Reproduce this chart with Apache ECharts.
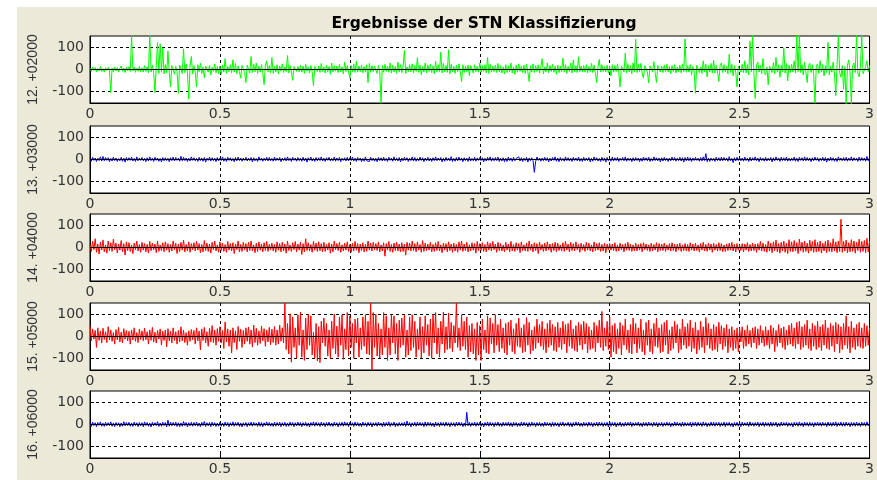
<!DOCTYPE html>
<html>
<head>
<meta charset="utf-8">
<script src="https://cdn.jsdelivr.net/npm/echarts@6/dist/echarts.min.js"></script>
<style>
  html, body { margin: 0; padding: 0; background: #fff; }
  #wrap { position: relative; width: 877px; height: 480px; overflow: hidden; }
  #panel { position: absolute; left: 17px; top: 7px; right: 0; bottom: 0; background: #ece9d8; }
  #chart { position: absolute; left: 0; top: 0; width: 877px; height: 480px; }
</style>
</head>
<body>
<div id="wrap"><div id="panel"></div><div id="chart"></div></div>
<script>
// STN recordings, 0 .. 3 s, one value per 5 ms (amplitude in µV)
const chanNames = ['12. +02000', '13. +03000', '14. +04000', '15. +05000', '16. +06000'];
const chanColors = ['#00ff00', '#0000ff', '#ff0000', '#ff0000', '#0000ff'];
const timeRange = [0, 3];
const timeTicks = 0.5;
const ampTicks = [-100, 0, 100];

const ch12 = [
  6, -8, 12, -4, 9, -11, 5, -7, 14, -9, 4, -12, 8, -5, 10, -6, -106, 7, -10, 11,
  -6, 9, -12, 5, 16, -8, 7, -14, 10, -5, 13, -9, 160, -7, 11, -13, 6, -8, 15, -10,
  8, -12, 18, -9, 12, -15, 160, -11, 20, -14, -106, 16, 124, -18, 118, -12, 100, -20, 22, -16,
  85, -14, -80, 18, 26, -22, 14, -10, -110, 20, 12, -18, 95, -15, 24, -12, -136, 16, 60, -20,
  18, -14, -80, 22, -10, 30, -18, 12, -38, 16, 24, -12, 18, -25, 10, -8, 26, -15, 14, -20,
  15, -22, 20, -12, 50, -18, 14, -10, 22, -15, 45, -12, 28, -20, 16, -9, -40, 18, 12, -14,
  -60, 20, 12, -16, 60, -14, 24, -10, 30, -18, 16, -12, 22, -15, -70, 20, 40, -11, 18, -16,
  55, -18, 14, -12, 22, -20, 16, -8, 26, -14, 12, -10, 64, -16, 18, -12, -50, 14, 20, -9,
  14, -10, 20, -12, 16, -18, 24, -8, 12, -15, 18, -11, -75, 14, 22, -10, 16, -13, 28, -9,
  12, -16, 20, -10, 14, -22, 30, -12, 18, -8, 16, -14, 24, -11, 12, -20, 34, -9, 18, -12,
  -40, 18, -10, 26, -14, 38, -12, 16, -9, 20, -15, 14, -11, 22, -60, 28, -13, 18, -10, 16,
  12, -18, 20, -10, -155, 18, -12, 24, -9, 16, -13, 30, -16, 20, -11, 14, -18, 34, -12, 22,
  -14, 16, 88, -18, 12, -10, 22, -11, 26, -15, 18, -9, 55, -13, 20, -24, 14, -12, 30, -16,
  20, -9, 24, -14, 16, -20, 38, -12, 22, -10, 80, -16, 28, -11, 18, -13, 91, -20, 24, -12,
  14, -18, 20, -10, 26, -12, -55, 22, -14, 16, -11, 20, -28, 18, 12, -16, 22, -10, 14, -12,
  30, -13, 18, -9, 22, -15, 55, -18, 24, -12, 16, -10, 20, -14, 28, -11, 18, -16, 12, -20,
  22, -14, 18, -10, 30, -16, 12, -22, 20, -12, 26, -9, 16, -14, 20, -18, 24, -11, -55, 18,
  -12, 26, -14, 18, -10, 22, -16, 14, 50, -20, 12, -11, 30, -15, 18, -9, 24, -13, 16, -22,
  20, -14, 16, -10, 52, -12, 22, -18, 14, -9, 30, -16, 44, -11, 18, -14, 58, -10, 16, -12,
  18, -12, 22, -15, 14, -10, 28, -14, 20, -18, -60, 12, 46, -12, 22, -9, 14, -11, 20, -16,
  14, -30, 22, -12, 18, -10, 26, -14, -80, 16, 20, -12, 75, -15, 24, -11, 18, -20, 30, -12,
  139, -14, 24, -10, 28, -16, -40, 18, 20, -12, -62, 16, 22, -10, 36, -14, -60, 18, 12, -11,
  16, -14, 20, -10, 24, -12, 14, -20, 18, -9, 22, -16, 12, -11, 20, -15, 26, -10, 140, -13,
  18, -12, 22, -25, 14, -10, -109, 20, 16, -14, 12, -18, 40, -11, 24, -34, 18, -12, 28, -16,
  42, -16, 20, -12, -55, 18, 30, -14, 22, -10, 16, -20, 70, -14, 24, -30, 18, -12, -80, 14,
  20, -12, 24, -14, 40, -16, 22, -25, 130, -10, 160, -18, -133, 20, 34, -12, 18, -20, 50, -14,
  -25, 12, -70, 16, 20, -14, 32, -20, 56, -12, 22, -36, 18, -10, 100, -16, 28, -52, 20, -14,
  24, -12, 40, -16, 160, -10, 160, -14, 22, -25, 34, -12, -60, 18, 28, -14, 22, -20, -155, 16,
  26, -18, 40, -12, 22, -30, 18, -14, 125, -25, 14, -12, 34, -16, -120, 20, 160, -14, -35, 18,
  -90, 14, -160, 20, 44, -12, -160, 18, 30, -14, 160, -16, -34, 12, 160, -20, -25, 14, 40, -12,
  18
];

const ch13 = [
  5, -8, 10, -4, 7, -9, 6, -5, 12, -7, 14, -6, 9, -4, 8, -10, 5, -7, 11, -5,
  7, -9, 4, -6, 10, -8, 6, -12, 9, -5, 8, -4, 11, -7, 5, -9, 12, -6, 7, -4,
  9, -6, 5, -10, 8, -7, 12, -5, 6, -9, 10, -4, 7, -8, 5, -11, 9, -6, 8, -5,
  6, -10, 8, -5, 11, -7, 9, -4, 6, -8, 15, -6, 10, -5, 7, -9, 6, -7, 12, -4,
  8, -6, 5, -9, 10, -5, 7, -8, 9, -12, 6, -4, 11, -7, 8, -5, 6, -10, 9, -6,
  7, -5, 12, -8, 6, -9, 10, -4, 8, -7, 5, -10, 9, -6, 11, -5, 7, -8, 6, -4,
  10, -7, 6, -5, 9, -11, 8, -6, 5, -9, 12, -4, 7, -8, 6, -5, 10, -7, 9, -6,
  5, -8, 11, -6, 7, -4, 9, -10, 6, -5, 8, -7, 12, -5, 6, -9, 10, -4, 7, -8,
  9, -5, 6, -8, 10, -6, 7, -12, 8, -4, 11, -7, 5, -9, 9, -6, 8, -5, 12, -7,
  6, -9, 8, -4, 10, -7, 5, -6, 11, -8, 7, -5, 9, -10, 6, -4, 8, -7, 10, -6,
  8, -5, 11, -7, 6, -9, 9, -4, 7, -10, 5, -8, 12, -6, -15, -9, 10, -5, 7, -8,
  6, -10, 9, -5, 8, -7, 11, -6, 5, -9, 10, -4, 7, -8, 12, -5, 6, -7, 9, -11,
  7, -6, 10, -4, 8, -9, 6, -5, 12, -7, 9, -8, 5, -6, 11, -4, 8, -10, 7, -5,
  10, -7, 6, -9, 8, -5, 12, -6, 7, -4, 9, -11, 6, -8, 10, -5, 7, -6, 13, -9,
  5, -8, 9, -6, 11, -4, 7, -10, 8, -5, 6, -9, 12, -7, 5, -6, 10, -8, 7, -4,
  9, -5, 8, -11, 6, -7, 10, -4, 12, -8, 7, -6, 9, -5, 11, -9, 6, -7, 8, -10,
  6, -9, 11, -5, 7, -8, 10, -6, 5, -4, 12, -7, 8, -9, 6, -5, 10, -12, 7, -6,
  8, -5, -59, -9, 11, -4, 7, -8, 7, -6, 10, -5, 8, -11, 6, -7, 9, -4, 12, -8,
  7, -10, 9, -6, 5, -8, 12, -5, 8, -7, 6, -9, 10, -4, 7, -6, 11, -8, 5, -9,
  10, -6, 7, -5, 9, -11, 6, -8, 12, -4, 8, -7, 5, -9, 10, -6, 7, -12, 9, -5,
  6, -8, 11, -7, 8, -5, 10, -9, 6, -4, 9, -6, 12, -8, 7, -5, 6, -10, 8, -7,
  9, -5, 7, -10, 6, -8, 11, -4, 8, -6, 10, -9, 5, -7, 12, -5, 8, -6, 7, -11,
  8, -7, 10, -5, 6, -9, 7, -6, 11, -4, 9, -8, 6, -5, 10, -7, 8, -12, 9, -6,
  11, -6, 8, -9, 7, -5, 10, -4, 6, -8, 9, -7, 12, -5, 27, -10, 6, -9, 7, -5,
  6, -9, 10, -5, 8, -7, 11, -6, 9, -4, 7, -8, 13, -6, 5, -14, 8, -7, 10, -5,
  9, -6, 7, -8, 11, -5, 6, -9, 10, -7, 8, -4, 12, -6, 7, -10, 9, -5, 6, -8,
  10, -7, 6, -5, 9, -11, 8, -6, 12, -4, 7, -9, 10, -5, 8, -6, 11, -8, 6, -7,
  7, -5, 11, -8, 6, -9, 10, -4, 8, -7, 12, -6, 9, -5, 7, -10, 8, -6, 11, -4,
  8, -9, 6, -5, 10, -7, 9, -12, 7, -6, 11, -5, 8, -8, 6, -9, 12, -4, 7, -6,
  9, -6, 10, -8, 7, -5, 12, -7, 8, -4, 6, -9, 11, -6, 9, -5, 7, -8, 14, -6,
  8
];

const ch14 = [
  14, -18, 28, -10, 40, -22, 16, -30, 24, -12, 35, -20, 12, -26, 30, -14, 22, -18, 38, -10,
  20, -25, 16, -12, 32, -20, 18, -35, 26, -14, 22, -18, 12, -28, 20, -10, 30, -16, 14, -22,
  24, -12, 18, -20, 14, -26, 28, -15, 20, -10, 16, -24, 30, -18, 12, -14, 22, -20, 26, -12,
  18, -22, 14, -16, 30, -10, 20, -28, 16, -18, 24, -12, 34, -20, 14, -15, 26, -22, 18, -10,
  22, -16, 28, -12, 18, -24, 14, -20, 32, -14, 20, -18, 16, -26, 24, -10, 30, -16, 12, -22,
  26, -14, 20, -18, 14, -22, 28, -12, 18, -16, 22, -28, 16, -10, 30, -20, 14, -18, 24, -12,
  18, -20, 24, -14, 30, -16, 12, -24, 20, -18, 26, -12, 16, -20, 22, -14, 28, -18, 14, -10,
  20, -16, 14, -22, 26, -12, 18, -20, 24, -15, 16, -26, 30, -14, 12, -18, 22, -10, 28, -20,
  16, -12, 24, -32, 18, -20, 40, -14, 22, -16, 14, -22, 28, -12, 20, -18, 26, -15, 18, -20,
  24, -18, 14, -12, 22, -26, 16, -20, 30, -10, 18, -14, 24, -22, 12, -16, 20, -12, 26, -18,
  14, -22, 20, -16, 28, -12, 18, -24, 16, -14, 22, -20, 14, -18, 30, -12, 20, -16, 24, -10,
  18, -14, 26, -20, 12, -16, 22, -40, 18, -12, 28, -18, 14, -22, 20, -14, 24, -16, 16, -20,
  22, -18, 16, -35, 24, -12, 20, -16, 30, -14, 18, -20, 26, -12, 14, -22, 32, -18, 20, -14,
  16, -12, 24, -20, 14, -18, 22, -14, 28, -16, 12, -24, 20, -12, 18, -20, 26, -14, 16, -22,
  20, -16, 14, -22, 26, -12, 30, -18, 16, -14, 24, -20, 12, -16, 22, -12, 18, -26, 28, -14,
  18, -14, 22, -18, 14, -20, 26, -12, 20, -16, 28, -10, 16, -22, 24, -14, 18, -16, 12, -20,
  24, -12, 16, -20, 28, -16, 14, -18, 22, -12, 18, -24, 26, -14, 12, -16, 20, -18, 30, -12,
  16, -20, 22, -14, 18, -28, 24, -12, 14, -18, 20, -16, 26, -12, 16, -22, 18, -14, 24, -20,
  20, -14, 12, -16, 22, -18, 28, -12, 16, -20, 24, -14, 18, -16, 26, -10, 14, -22, 20, -12,
  14, -18, 24, -12, 20, -16, 12, -20, 26, -14, 18, -12, 22, -18, 14, -16, 20, -24, 16, -10,
  18, -12, 16, -14, 22, -18, 12, -16, 20, -10, 14, -20, 18, -12, 24, -14, 16, -18, 12, -16,
  20, -16, 14, -12, 18, -20, 22, -10, 16, -14, 12, -18, 20, -16, 14, -12, 22, -20, 18, -14,
  16, -14, 20, -18, 12, -12, 18, -16, 22, -14, 14, -20, 16, -10, 20, -18, 12, -14, 18, -16,
  14, -18, 22, -12, 16, -16, 20, -14, 12, -20, 18, -12, 24, -16, 14, -18, 20, -12, 16, -22,
  20, -12, 14, -16, 22, -14, 18, -20, 12, -18, 16, -14, 20, -12, 24, -16, 14, -20, 18, -12,
  12, -14, 18, -20, 16, -12, 22, -18, 14, -16, 20, -14, 16, -22, 18, -12, 28, -16, 20, -18,
  14, -22, 30, -16, 20, -24, 26, -14, 34, -20, 18, -26, 24, -16, 30, -22, 20, -28, 36, -18,
  26, -20, 32, -16, 22, -28, 38, -14, 24, -22, 30, -18, 20, -26, 34, -16, 28, -22, 36, -20,
  24, -18, 30, -26, 20, -16, 28, -24, 34, -18, 22, -20, 40, -16, 26, -24, 30, -18, 130, -22,
  28, -16, 34, -24, 22, -20, 36, -18, 30, -26, 24, -14, 38, -22, 28, -18, 32, -24, 42, -20,
  30
];

const ch15 = [
  50, -20, 35, -12, 28, -50, 40, -18, 25, -30, 38, -14, 22, -28, 45, -16, 30, -22, 18, -35,
  32, -15, 42, -25, 20, -30, 36, -12, 28, -20, 24, -35, 30, -16, 40, -22, 18, -28, 34, -14,
  26, -20, 38, -15, 22, -35, 30, -18, 42, -25, 20, -30, 28, -12, 35, -40, 24, -18, 30, -48,
  36, -20, 25, -30, 40, -18, 22, -35, 28, -25, 45, -20, 30, -28, 18, -40, 26, -22, 32, -15,
  28, -35, 40, -20, 25, -62, 35, -18, 42, -30, 22, -45, 38, -25, 50, -28, 30, -40, 36, -22,
  45, -30, 28, -55, 67, -25, 35, -45, 30, -75, 40, -28, 26, -60, 46, -22, 34, -50, 28, -35,
  40, -22, 44, -35, 30, -48, 52, -28, 38, -40, 26, -32, 48, -20, 36, -45, 30, -25, 42, -38,
  34, -28, 46, -40, 30, -35, 52, -22, 40, -30, 155, -60, 60, -80, 104, -118, 90, -50, 40, -100,
  100, -40, 112, -95, 30, -110, 85, -60, 103, -40, 95, -85, 20, -100, 60, -112, 45, -120, 70, -30,
  85, -45, 60, -90, 30, -100, 70, -55, 103, -80, 48, -95, 90, -40, 100, -105, 35, -60, 110, -90,
  95, -50, 60, -100, 80, -30, 85, -95, 40, -60, 90, -45, 100, -80, 70, -85, 155, -155, 110, -50,
  103, -90, 60, -100, 35, -85, 110, -50, 95, -110, 40, -85, 100, -30, 95, -80, 60, -110, 75, -50,
  85, -40, 100, -95, 30, -85, 90, -65, 100, -50, 70, -95, 35, -60, 90, -100, 45, -75, 95, -40,
  55, -90, 80, -100, 103, -30, 110, -80, 40, -95, 70, -35, 112, -75, 45, -60, 108, -55, 65, -70,
  50, -30, 155, -50, 40, -65, 100, -45, 70, -60, 90, -95, 50, -70, 60, -80, 35, -110, 65, -85,
  50, -110, 80, -60, 30, -75, 95, -80, 85, -35, 60, -75, 100, -40, 55, -70, 80, -55, 40, -75,
  60, -85, 65, -40, 75, -70, 35, -80, 60, -45, 85, -50, 40, -75, 55, -70, 87, -40, 65, -80,
  30, -65, 45, -55, 80, -30, 55, -45, 70, -60, 35, -75, 60, -50, 75, -40, 55, -65, 45, -70,
  65, -50, 40, -60, 70, -35, 55, -75, 60, -45, 75, -55, 35, -65, 50, -70, 65, -40, 55, -60,
  70, -35, 60, -75, 45, -60, 30, -55, 65, -70, 50, -30, 75, -50, 115, -65, 40, -45, 70, -60,
  90, -95, 50, -70, 60, -80, 35, -55, 65, -85, 50, -40, 80, -60, 30, -75, 55, -80, 85, -35,
  60, -75, 40, -55, 80, -70, 30, -85, 65, -40, 75, -70, 35, -80, 60, -45, 85, -50, 40, -75,
  55, -70, 65, -40, 75, -80, 30, -65, 45, -55, 70, -30, 55, -75, 35, -60, 80, -40, 45, -55,
  60, -45, 75, -70, 40, -55, 65, -80, 30, -60, 70, -50, 45, -75, 87, -40, 60, -55, 35, -65,
  55, -60, 45, -70, 65, -35, 50, -60, 40, -45, 55, -75, 35, -50, 45, -65, 30, -55, 40, -70,
  38, -25, 45, -55, 30, -45, 52, -35, 28, -50, 40, -30, 45, -55, 35, -40, 50, -30, 28, -45,
  45, -40, 30, -55, 52, -35, 40, -70, 28, -45, 55, -30, 38, -50, 45, -60, 30, -40, 52, -35,
  60, -45, 40, -55, 65, -35, 70, -60, 45, -50, 55, -40, 75, -55, 35, -65, 60, -45, 50, -60,
  70, -50, 45, -65, 55, -40, 75, -55, 40, -60, 60, -45, 50, -70, 65, -35, 55, -75, 45, -60,
  60, -40, 95, -55, 45, -75, 70, -50, 40, -60, 55, -45, 65, -50, 40, -55, 60, -45, 50, -40,
  40
];

const ch16 = [
  7, -9, 11, -5, 8, -10, 9, -4, 12, -8, 6, -9, 10, -6, 8, -5, 12, -8, 7, -10,
  9, -5, 8, -10, 7, -8, 13, -6, 9, -5, 10, -8, 7, -9, 11, -5, 8, -10, 9, -6,
  8, -10, 12, -5, 9, -8, 7, -11, 10, -6, 8, -5, 13, -9, 7, -8, 10, -5, 9, -11,
  20, -8, 10, -6, 9, -5, 11, -9, 8, -10, 7, -8, 14, -5, 9, -11, 8, -6, 10, -8,
  9, -6, 11, -8, 7, -10, 10, -5, 14, -9, 8, -6, 9, -10, 11, -5, 8, -9, 7, -8,
  10, -8, 7, -9, 11, -5, 9, -10, 8, -6, 12, -8, 9, -5, 10, -9, 7, -11, 8, -5,
  9, -10, 8, -6, 11, -8, 10, -5, 7, -9, 11, -8, 9, -10, 8, -5, 12, -6, 9, -8,
  7, -9, 10, -8, 9, -5, 11, -10, 8, -6, 10, -9, 7, -8, 11, -5, 9, -10, 8, -6,
  11, -6, 9, -10, 8, -5, 10, -8, 7, -11, 9, -5, 12, -8, 10, -6, 8, -9, 11, -5,
  8, -10, 9, -6, 11, -8, 7, -9, 10, -5, 8, -11, 9, -6, 10, -8, 12, -5, 9, -10,
  10, -5, 8, -9, 11, -6, 9, -8, 7, -10, 11, -5, 8, -9, 10, -6, 9, -11, 8, -5,
  9, -8, 11, -5, 7, -10, 10, -8, 9, -6, 12, -9, 8, -5, 11, -10, 7, -8, 9, -6,
  8, -6, 10, -9, 16, -5, 9, -11, 8, -6, 10, -8, 11, -5, 9, -6, 8, -10, 12, -8,
  10, -5, 9, -8, 7, -11, 11, -6, 8, -9, 10, -5, 9, -8, 11, -6, 8, -10, 9, -5,
  8, -9, 11, -6, 10, -5, 9, -10, 7, -8, 56, -6, 10, -9, 8, -5, 11, -8, 9, -6,
  10, -8, 7, -11, 9, -5, 12, -8, 10, -6, 8, -10, 9, -5, 11, -8, 7, -9, 10, -6,
  9, -6, 11, -8, 8, -10, 10, -5, 9, -9, 7, -8, 12, -6, 10, -5, 8, -11, 9, -8,
  11, -5, 8, -10, 9, -6, 10, -8, 7, -9, 11, -6, 9, -5, 8, -10, 10, -8, 9, -6,
  8, -10, 9, -6, 11, -8, 7, -5, 10, -9, 8, -11, 9, -6, 12, -5, 10, -8, 7, -9,
  10, -6, 8, -9, 11, -5, 9, -10, 8, -6, 10, -8, 11, -5, 9, -9, 8, -6, 10, -11,
  13, -8, 9, -6, 10, -11, 8, -5, 11, -9, 7, -8, 10, -6, 9, -5, 12, -10, 8, -6,
  9, -5, 11, -8, 7, -10, 10, -6, 9, -8, 11, -5, 8, -9, 10, -6, 9, -11, 8, -5,
  10, -9, 8, -6, 11, -5, 9, -10, 7, -8, 12, -6, 10, -5, 8, -9, 11, -8, 9, -6,
  8, -6, 10, -11, 9, -5, 11, -8, 10, -6, 8, -9, 12, -5, 9, -10, 7, -8, 11, -6,
  11, -8, 9, -5, 10, -9, 8, -6, 11, -10, 9, -5, 10, -8, 7, -11, 9, -6, 10, -8,
  9, -10, 11, -6, 8, -5, 10, -9, 12, -6, 8, -8, 9, -5, 11, -10, 8, -6, 10, -9,
  10, -6, 8, -9, 11, -8, 9, -5, 10, -11, 7, -8, 11, -6, 9, -5, 10, -9, 8, -6,
  8, -11, 10, -5, 9, -8, 12, -6, 8, -10, 11, -5, 9, -8, 10, -6, 8, -11, 9, -5,
  11, -6, 9, -8, 10, -5, 8, -10, 11, -6, 9, -8, 10, -5, 12, -9, 8, -6, 11, -8,
  9, -8, 11, -5, 8, -10, 10, -6, 9, -8, 11, -6, 8, -9, 10, -5, 9, -8, 12, -6,
  8
];

const channels = [ch12, ch13, ch14, ch15, ch16];

// panel layout (pixels)
const plotTops = [36, 126, 214, 303, 391];
const plotHeight = 67;
const ampLimit = 154;

const tickFont = { fontFamily: 'DejaVu Sans', fontSize: 14, color: '#333' };
const dashed = { color: '#000', type: [3, 3], width: 1 };

const grid = [], xAxis = [], yAxis = [], series = [];
channels.forEach((vals, k) => {
  grid.push({
    left: 90, right: 5, top: plotTops[k], height: plotHeight,
    show: true, backgroundColor: '#fff', borderColor: '#000', borderWidth: 1
  });
  xAxis.push({
    type: 'value', gridIndex: k, min: timeRange[0], max: timeRange[1], interval: timeTicks,
    axisLine: { show: true, onZero: false, lineStyle: { color: '#000' } },
    axisTick: { show: true, inside: true, length: 4, lineStyle: { color: '#000' } },
    axisLabel: Object.assign({ margin: 4, showMaxLabel: true, showMinLabel: true }, tickFont),
    splitLine: { show: true, lineStyle: dashed }
  });
  yAxis.push({
    type: 'value', gridIndex: k, min: -ampLimit, max: ampLimit,
    name: chanNames[k], nameLocation: 'middle', nameGap: 50,
    nameTextStyle: { fontFamily: 'Liberation Sans Narrow, Liberation Sans', fontSize: 14, color: '#333' },
    axisLine: { show: true, lineStyle: { color: '#000' } },
    axisTick: { show: true, inside: true, length: 4, customValues: ampTicks, lineStyle: { color: '#000' } },
    axisLabel: Object.assign({ margin: 6, customValues: ampTicks }, tickFont),
    splitLine: { show: true, lineStyle: dashed }
  });
  const step = (timeRange[1] - timeRange[0]) / (vals.length - 1);
  series.push({
    type: 'line', xAxisIndex: k, yAxisIndex: k,
    data: vals.map((v, i) => [timeRange[0] + i * step, v]),
    showSymbol: false, symbol: 'none', clip: true,
    lineStyle: { color: chanColors[k], width: 1 },
    itemStyle: { color: chanColors[k] },
    silent: true,
    // zero reference line across the panel
    markLine: {
      silent: true, symbol: ['none', 'none'], label: { show: false },
      lineStyle: { color: '#000', type: 'solid', width: 1 },
      data: [{ yAxis: 0 }]
    }
  });
});

const chart = echarts.init(document.getElementById('chart'), null, { renderer: 'canvas' });
chart.setOption({
  animation: false,
  title: {
    text: 'Ergebnisse der STN Klassifizierung',
    left: 479, top: 11, textAlign: 'center',
    textStyle: { fontFamily: 'DejaVu Sans', fontWeight: 'bold', fontSize: 15.5, color: '#000' }
  },
  grid, xAxis, yAxis, series
});
</script>
</body>
</html>
